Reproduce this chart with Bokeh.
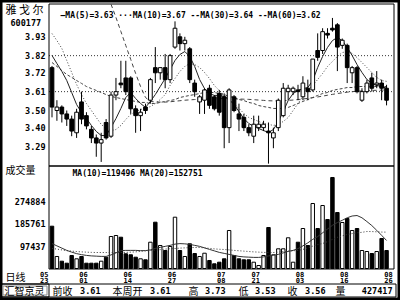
import numpy as np
from bokeh.plotting import figure
from bokeh.models import Range1d, Label
from bokeh.embed import file_html
from bokeh.resources import INLINE
from bokeh.core.properties import value

NAN = float("nan")

# ---------------- data ----------------
stock_name = "雅  戈  尔"
stock_code = "600177"
period_label = "日线"
volume_title = "成交量"
software_name = "汇智京灵"

open_ = [3.75, 3.50, 3.52, 3.48, 3.45, 3.37, 3.55, 3.47, 3.39, 3.34,
         3.31, 3.43, 3.35, 3.59, 3.66, 3.69, 3.69, 3.51, 3.47, 3.52,
         3.56, 3.75, 3.72, 3.75, 3.68, 3.87, 3.93, 3.89, 3.86, 3.66,
         3.55, 3.56, 3.63, 3.58, 3.60, 3.58, 3.40, 3.58, 3.48, 3.46,
         3.40, 3.35, 3.40, 3.40, 3.38, 3.34, 3.40, 3.47, 3.61, 3.61,
         3.62, 3.58, 3.63, 3.62, 3.85, 3.85, 3.95, 3.98, 4.00, 3.88,
         3.88, 3.72, 3.75, 3.56, 3.61, 3.69, 3.65, 3.66, 3.63]
high = [3.76, 3.56, 3.53, 3.50, 3.47, 3.51, 3.61, 3.49, 3.41, 3.36,
        3.37, 3.45, 3.61, 3.69, 3.79, 3.79, 3.70, 3.53, 3.51, 3.54,
        3.69, 3.87, 3.75, 3.83, 3.83, 4.02, 3.95, 3.93, 3.87, 3.68,
        3.59, 3.63, 3.65, 3.59, 3.62, 3.60, 3.63, 3.59, 3.54, 3.48,
        3.42, 3.47, 3.47, 3.44, 3.43, 3.40, 3.57, 3.66, 3.65, 3.64,
        3.65, 3.70, 3.68, 3.80, 3.95, 3.98, 3.98, 4.04, 4.01, 3.92,
        3.89, 3.76, 3.76, 3.63, 3.68, 3.72, 3.73, 3.68, 3.65]
low = [3.46, 3.44, 3.43, 3.41, 3.35, 3.34, 3.42, 3.39, 3.31, 3.23,
       3.20, 3.33, 3.34, 3.56, 3.63, 3.59, 3.48, 3.37, 3.38, 3.48,
       3.54, 3.66, 3.68, 3.63, 3.66, 3.86, 3.85, 3.85, 3.66, 3.58,
       3.48, 3.48, 3.51, 3.50, 3.47, 3.28, 3.31, 3.49, 3.38, 3.38,
       3.35, 3.31, 3.38, 3.38, 3.19, 3.28, 3.38, 3.46, 3.56, 3.59,
       3.56, 3.56, 3.56, 3.61, 3.79, 3.83, 3.92, 3.96, 3.73, 3.86,
       3.66, 3.66, 3.60, 3.55, 3.60, 3.61, 3.63, 3.56, 3.53]
close_ = [3.52, 3.52, 3.48, 3.45, 3.38, 3.49, 3.45, 3.41, 3.34, 3.31,
          3.33, 3.34, 3.59, 3.61, 3.65, 3.61, 3.51, 3.47, 3.49, 3.50,
          3.68, 3.72, 3.75, 3.68, 3.82, 3.98, 3.89, 3.91, 3.68, 3.61,
          3.58, 3.62, 3.53, 3.51, 3.49, 3.40, 3.62, 3.50, 3.45, 3.40,
          3.37, 3.42, 3.42, 3.42, 3.37, 3.37, 3.56, 3.63, 3.63, 3.63,
          3.61, 3.66, 3.61, 3.80, 3.81, 3.96, 3.94, 3.97, 3.87, 3.91,
          3.75, 3.75, 3.61, 3.61, 3.66, 3.63, 3.66, 3.63, 3.56]
volume = [176400, 55600, 36900, 28900, 59600, 46400, 55600, 28900, 28900, 28900,
          36900, 52800, 135300, 139300, 132500, 66400, 62400, 52800, 46400, 42400,
          112600, 192400, 99500, 79500, 95500, 212300, 79500, 55600, 106200, 67500,
          55600, 68700, 39700, 26500, 32900, 46400, 159300, 59600, 46400, 42400,
          42400, 32900, 19700, 59600, 171200, 62400, 86300, 86300, 130200, 32900,
          112600, 167200, 99500, 266900, 167200, 258900, 203100, 370600, 231000, 191200,
          207100, 159300, 167200, 79500, 75500, 67500, 75500, 127400, 79500]

ma5 = [3.821, 3.774, 3.728, 3.675, 3.605, 3.535, 3.488, 3.453, 3.413, 3.378,
       3.354, 3.354, 3.401, 3.453, 3.512, 3.576, 3.605, 3.570, 3.541, 3.518,
       3.553, 3.593, 3.640, 3.687, 3.739, 3.792, 3.827, 3.844, 3.815, 3.757,
       3.681, 3.628, 3.599, 3.588, 3.588, 3.582, 3.564, 3.535, 3.494, 3.453,
       3.424, 3.407, 3.395, 3.383, 3.372, 3.389, 3.436, 3.494, 3.558, 3.599,
       3.617, 3.628, 3.634, 3.675, 3.751, 3.815, 3.868, 3.908, 3.926, 3.908,
       3.868, 3.821, 3.768, 3.722, 3.681, 3.658, 3.646, 3.640, 3.630]
ma10 = [3.949, 3.908, 3.862, 3.792, 3.722, 3.652, 3.593, 3.541, 3.500, 3.459,
        3.419, 3.395, 3.383, 3.389, 3.413, 3.448, 3.477, 3.494, 3.506, 3.512,
        3.523, 3.541, 3.564, 3.593, 3.646, 3.687, 3.728, 3.757, 3.774, 3.768,
        3.751, 3.722, 3.687, 3.646, 3.617, 3.588, 3.558, 3.541, 3.512, 3.483,
        3.459, 3.448, 3.436, 3.424, 3.419, 3.413, 3.419, 3.436, 3.459, 3.500,
        3.541, 3.582, 3.617, 3.646, 3.681, 3.716, 3.757, 3.786, 3.815, 3.838,
        3.844, 3.833, 3.809, 3.780, 3.751, 3.722, 3.693, 3.675, 3.670]
ma30 = [3.780, 3.757, 3.733, 3.710, 3.693, 3.675, 3.658, 3.640, 3.628, 3.617,
        3.605, 3.593, 3.582, 3.576, 3.570, 3.564, 3.558, 3.553, 3.547, 3.547,
        3.541, 3.541, 3.547, 3.553, 3.558, 3.564, 3.576, 3.582, 3.588, 3.593,
        3.599, 3.605, 3.605, 3.605, 3.599, 3.593, 3.582, 3.576, 3.564, 3.558,
        3.547, 3.541, 3.529, 3.523, 3.518, 3.512, 3.512, 3.512, 3.518, 3.529,
        3.541, 3.553, 3.564, 3.576, 3.588, 3.599, 3.605, 3.617, 3.623, 3.628,
        3.634, 3.634, 3.640, 3.640, 3.640, 3.640, 3.640, 3.640, 3.640]
ma60 = [NAN, NAN, NAN, NAN, NAN, NAN, NAN, NAN, NAN, NAN,
        NAN, NAN, 4.120, 4.043, 3.961, 3.879, 3.798, 3.716, 3.640, 3.576,
        3.553, 3.550, 3.549, 3.549, 3.551, 3.554, 3.557, 3.560, 3.562, 3.564,
        3.565, 3.566, 3.567, 3.568, 3.569, 3.570, 3.569, 3.568, 3.567, 3.566,
        3.565, 3.563, 3.561, 3.559, 3.557, 3.556, 3.556, 3.557, 3.559, 3.561,
        3.564, 3.567, 3.571, 3.575, 3.579, 3.584, 3.589, 3.594, 3.599, 3.603,
        3.607, 3.610, 3.612, 3.614, 3.616, 3.617, 3.618, 3.619, 3.620]
vol_ma10 = [107000, 98000, 89000, 80000, 73000, 67000, 63000, 60000, 58000, 57000,
            56000, 56000, 62000, 70000, 79000, 80000, 80000, 80000, 79000, 79000,
            82000, 88000, 92000, 96000, 100000, 105000, 107000, 106000, 104000, 100000,
            96000, 90000, 84000, 78000, 72000, 68000, 64000, 60000, 56000, 54000,
            53000, 52000, 52000, 54000, 58000, 61000, 64000, 70000, 76000, 80000,
            87000, 98000, 110000, 124000, 135000, 150000, 165000, 180000, 191000, 200000,
            210000, 217000, 219000, 210000, 195000, 179000, 160000, 140000, 119496]
vol_ma20 = [88000, 85000, 82000, 79000, 77000, 75500, 74000, 73000, 72000, 71500,
            71500, 71500, 71500, 71500, 71500, 72000, 73000, 74000, 76000, 78000,
            79500, 81000, 83000, 85000, 86500, 87500, 89000, 90000, 91000, 91500,
            91500, 90000, 88000, 86000, 84500, 83500, 82000, 80000, 78500, 77000,
            75500, 74000, 73000, 72000, 71500, 71500, 73000, 75000, 77000, 78500,
            79500, 84000, 90000, 97000, 103000, 107400, 115000, 124000, 132000, 138000,
            143300, 147000, 150000, 152000, 155300, 155000, 154000, 153000, 152751]

price_ticks = [3.29, 3.40, 3.50, 3.61, 3.72, 3.82, 3.93]
price_grid = [3.61, 3.82]
volume_ticks = [97437, 185761, 274884]

date_index = [-2, 6, 15, 24, 34, 41, 50, 59, 68]
date_month = ["05", "06", "06", "06", "07", "07", "08", "08", "08"]
date_day = ["23", "01", "14", "27", "08", "21", "03", "16", "26"]

ma_legend = "\u2014MA(5)=3.63 \u00b7\u00b7\u00b7MA(10)=3.67 --MA(30)=3.64 --MA(60)=3.62"
vol_legend = "MA(10)=119496  MA(20)=152751"

info_labels = ["前收", "本周开", "高", "低", "收", "量"]
info_values = ["3.61", "3.61", "3.73", "3.53", "3.56", "427417"]

# ---------------- layout / style (pixels of the 400x300 canvas) ----------------
W, H = 400, 300
MONO = "DejaVu Sans Mono"
CJK = "Noto Sans CJK SC"

# screen mapping of the three scales (from the reference's tick positions)
CANDLE0_PX, STEP_PX = 51.5, 4.92           # candle 0 x position, candle spacing
PRICE_REF, PRICE_REF_PX, PRICE_PPU = 3.93, 36.3, 171.4
VOL_REF, VOL_REF_PX, VOL_PER_PX = 274884, 201.0, 3987.0


def idx_at(px):
    return (px - CANDLE0_PX) / STEP_PX


def price_at(py):
    return PRICE_REF - (py - PRICE_REF_PX) / PRICE_PPU


def vol_at(py):
    return VOL_REF - (py - VOL_REF_PX) * VOL_PER_PX


PANEL_L, PANEL_R = 48.5, 393.5
PRICE_T, SPLIT, VOL_B = 3.5, 165.5, 268.5

p = figure(width=W, height=H, output_backend="svg", toolbar_location=None,
           x_range=Range1d(idx_at(0), idx_at(W)),
           y_range=Range1d(price_at(H), price_at(0)),
           x_axis_location=None, y_axis_location=None,
           min_border_left=0, min_border_right=0, min_border_top=0, min_border_bottom=0,
           background_fill_color="white", border_fill_color="white",
           outline_line_color="black", outline_line_width=4)
p.extra_y_ranges = {"vol": Range1d(vol_at(H), vol_at(0)), "px": Range1d(H, 0)}
p.extra_x_ranges = {"px": Range1d(0, W)}
p.grid.visible = False

idx = np.arange(len(close_))
o = np.array(open_)
c = np.array(close_)
fill = np.where(c >= o, "white", "black").tolist()

# ---- panel frames ----
p.quad(left=[PANEL_L, PANEL_L], right=[PANEL_R, PANEL_R],
       top=[PRICE_T, SPLIT], bottom=[SPLIT, VOL_B],
       fill_alpha=0, line_color="black", line_width=1,
       x_range_name="px", y_range_name="px")

# ---- price panel ----
p.segment(x0=PANEL_L, x1=PANEL_R, y0=price_grid, y1=price_grid,
          line_color="black", line_dash="1 2", line_alpha=0.8, x_range_name="px")
p.text(x=45, y=price_ticks, text=["%.2f" % t for t in price_ticks],
       text_font=value(MONO), text_font_size="8.5px", text_font_style="bold",
       text_align="right", text_baseline="middle", text_color="black",
       x_range_name="px")

p.line(idx, ma30, line_color="#444444", line_width=1, line_dash="3 2")
p.line(idx, ma60, line_color="#444444", line_width=1, line_dash="4 3")
p.line(idx, ma10, line_color="#444444", line_width=1, line_dash="1 2")
p.line(idx, ma5, line_color="#222222", line_width=1)

p.segment(x0=idx, y0=high, x1=idx, y1=low, line_color="black", line_width=1)
p.vbar(x=idx, width=0.75, top=np.maximum(o, c), bottom=np.minimum(o, c),
       fill_color=fill, line_color="black", line_width=1)

# ---- volume panel ----
p.text(x=45, y=volume_ticks, text=[str(v) for v in volume_ticks],
       text_font=value(MONO), text_font_size="8.5px", text_font_style="bold",
       text_align="right", text_baseline="middle", text_color="black",
       x_range_name="px", y_range_name="vol")
p.vbar(x=idx, width=0.7, top=volume, bottom=vol_at(VOL_B - 0.5),
       fill_color=fill, line_color="black", line_width=1, y_range_name="vol")
p.line(idx, vol_ma10, line_color="#333333", line_width=1, y_range_name="vol")
p.line(idx, vol_ma20, line_color="#333333", line_width=1, line_dash="1 2",
       y_range_name="vol")

# ---- date row ----
p.text(x=date_index, y=273.5, text=date_month, text_font=value(MONO),
       text_font_size="7px", text_font_style="bold", text_align="center",
       text_baseline="middle", x_offset=2, text_color="black", y_range_name="px")
p.text(x=date_index, y=279.5, text=date_day, text_font=value(MONO),
       text_font_size="7px", text_font_style="bold", text_align="center",
       text_baseline="middle", x_offset=2, text_color="black", y_range_name="px")

# ---- info bar boxes ----
p.quad(left=[0.5, 0.5], right=[395.5, 48.5], top=[283.5, 283.5], bottom=[296.5, 296.5],
       fill_alpha=0, line_color="black", line_width=1,
       x_range_name="px", y_range_name="px")
p.quad(left=[2.5], right=[46.5], top=[285.5], bottom=[294.5],
       fill_alpha=0, line_color="#888888", line_width=1,
       x_range_name="px", y_range_name="px")


# ---- texts (screen units: x from left, y from bottom of the canvas) ----
def add_text(txt, x, y_from_top, font, size, bold=False, align="left"):
    p.add_layout(Label(x=x, y=H - y_from_top, x_units="screen", y_units="screen",
                       text=txt, text_font=font, text_font_size=size,
                       text_font_style="bold" if bold else "normal",
                       text_align=align, text_baseline="middle", text_color="black"))


add_text(stock_name, 5, 8, CJK, "11px")
add_text(stock_code, 10, 21.5, MONO, "8.5px", bold=True)
add_text(ma_legend, 60, 14.5, MONO, "8px", bold=True)
add_text(volume_title, 5, 168.5, CJK, "10px")
add_text(vol_legend, 72, 172.5, MONO, "8px", bold=True)
add_text(period_label, 5, 276, CJK, "10px")
add_text(software_name, 4, 290, CJK, "10px")

label_left = [52, 112, 188, 238, 287, 335]
value_right = [100, 170, 225, 275, 325, 392]
for lab, val, lx, vx in zip(info_labels, info_values, label_left, value_right):
    add_text(lab, lx, 290, CJK, "10px")
    add_text(val, vx, 290, MONO, "8.5px", bold=True, align="right")

with open("out.html", "w") as fh:
    fh.write(file_html(p, INLINE, title="600177"))
